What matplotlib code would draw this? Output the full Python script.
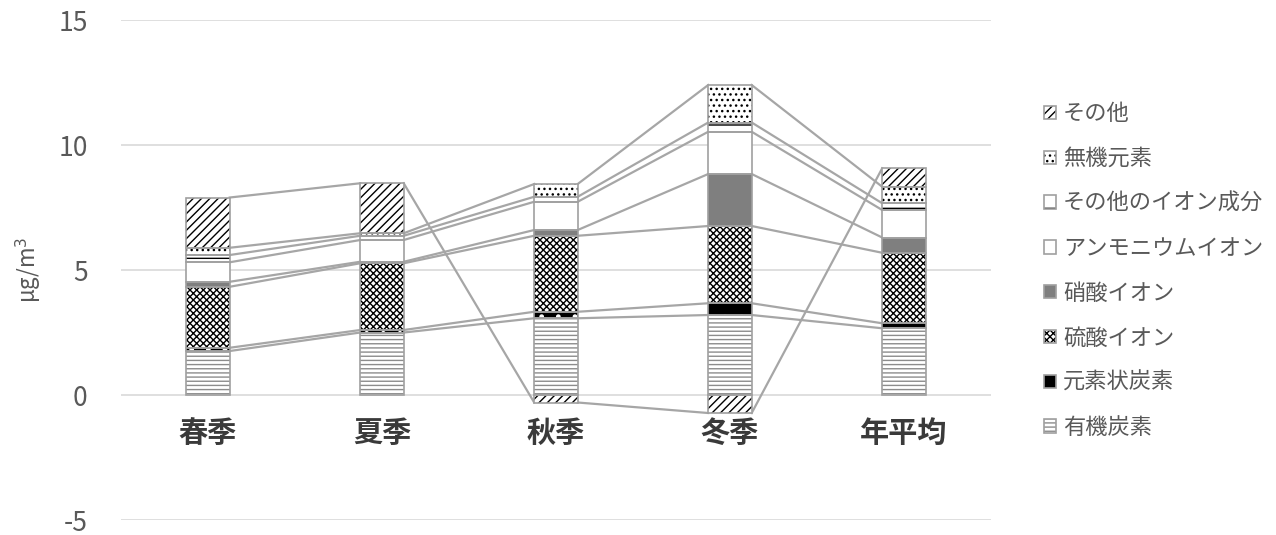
import numpy as np
import matplotlib
matplotlib.use('Agg')
import matplotlib.pyplot as plt

plt.rcParams['font.family'] = ['Noto Sans CJK JP', 'DejaVu Sans']
plt.rcParams['hatch.linewidth'] = 1.0
plt.rcParams['axes.unicode_minus'] = False

# categories and component values (ug/m3)
seasons = ['春季', '夏季', '秋季', '冬季', '年平均']
organic_c = [1.76, 2.50, 3.07, 3.20, 2.67]
elemental_c = [0.13, 0.10, 0.26, 0.47, 0.20]
sulfate = [2.44, 2.67, 3.04, 3.09, 2.82]
nitrate = [0.20, 0.06, 0.23, 2.08, 0.61]
ammonium = [0.78, 0.87, 1.13, 1.69, 1.10]
other_ions = [0.29, 0.17, 0.20, 0.37, 0.27]
inorganic = [0.29, 0.10, 0.51, 1.50, 0.66]
others = [2.01, 2.00, -0.30, -0.72, 0.74]

series = [
    ('有機炭素', organic_c, dict(facecolor='white', edgecolor='#8c8c8c', hatch='----')),
    ('元素状炭素', elemental_c, dict(facecolor='black', edgecolor='white', hatch='.')),
    ('硫酸イオン', sulfate, dict(facecolor='white', edgecolor='black', hatch='xxxxx')),
    ('硝酸イオン', nitrate, dict(facecolor='#7f7f7f', edgecolor='#7f7f7f', hatch=None)),
    ('アンモニウムイオン', ammonium, dict(facecolor='white', edgecolor='white', hatch=None)),
    ('その他のイオン成分', other_ions, dict(facecolor='white', edgecolor='black', hatch='-')),
    ('無機元素', inorganic, dict(facecolor='white', edgecolor='black', hatch='...')),
    ('その他', others, dict(facecolor='white', edgecolor='black', hatch='////')),
]

fig = plt.figure(figsize=(12.76, 5.35), dpi=100)
ax = fig.add_axes([0.0948, 0.028, 0.6818, 0.9346])

x = np.arange(len(seasons))
w = 0.25
pos_base = np.zeros(len(seasons))
neg_base = np.zeros(len(seasons))
handles = []
ends_all = []
for name, vals, style in series:
    vals = np.array(vals, dtype=float)
    bottoms = np.where(vals >= 0, pos_base, neg_base)
    fill = ax.bar(x, vals, w, bottom=bottoms, linewidth=0, zorder=2, **style)
    edge = ax.bar(x, vals, w, bottom=bottoms, fill=False, edgecolor='#a0a0a0',
                  linewidth=1.2, zorder=3)
    ends = bottoms + vals
    ends_all.append(ends)
    pos_base = np.where(vals >= 0, ends, pos_base)
    neg_base = np.where(vals < 0, ends, neg_base)
    handles.append((fill[0], edge[0]))

# series lines between bars
for ends in ends_all:
    for i in range(len(seasons) - 1):
        ax.plot([x[i] + w / 2, x[i + 1] - w / 2], [ends[i], ends[i + 1]],
                color='#a6a6a6', lw=1.6, zorder=1)

ax.set_xlim(-0.5, len(seasons) - 0.5)
ax.set_ylim(-5, 15)
ax.set_yticks([-5, 0, 5, 10, 15])
ax.yaxis.grid(True, color='#d9d9d9', lw=1.2)
ax.set_axisbelow(True)
for s in ax.spines.values():
    s.set_visible(False)
ax.tick_params(axis='y', length=0, labelsize=19, labelcolor='#595959', pad=24)
ax.set_xticks([])
for i, name in enumerate(seasons):
    ax.text(x[i], -1.5, name, ha='center', va='center', fontsize=21,
            fontweight='bold', color='#3a3a3a')
ax.set_ylabel('μg/m$^3$', fontsize=16, color='#595959', labelpad=10)

leg = fig.legend(handles=handles[::-1], labels=[s[0] for s in series][::-1],
                 loc='upper left', bbox_to_anchor=(0.8025, 0.846), frameon=False,
                 fontsize=16, handlelength=0.55, handleheight=0.55,
                 handletextpad=0.3, labelspacing=0.98)
for t in leg.get_texts():
    t.set_color('#595959')

fig.savefig('out.png', dpi=100)
